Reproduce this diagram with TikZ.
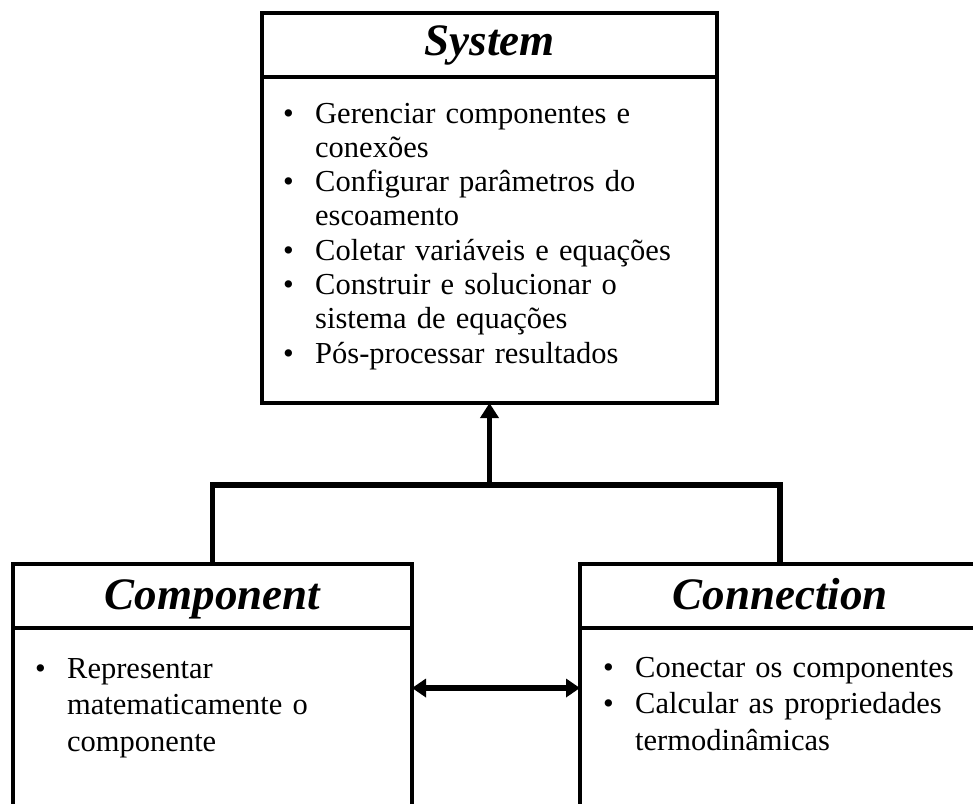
\documentclass[tikz,border=0pt]{standalone}
\usepackage{fontspec}
\setmainfont{Liberation Serif}
\usetikzlibrary{arrows.meta}

% bullet and hanging indent for the item lists
\newcommand{\bulletmark}{\makebox[32pt][l]{\textbullet}}
\newcommand{\hangsp}{\hspace*{32pt}}

\begin{document}
\begin{tikzpicture}[x=1pt,y=-1pt,
  boxframe/.style={draw=black,line width=4.5pt,inner sep=0pt,outer sep=0pt,anchor=north west},
  boxtitle/.style={font=\fontsize{45}{54}\selectfont\bfseries\itshape,inner sep=0pt,anchor=base},
  bodytext/.style={font=\fontsize{30.5}{34.3}\selectfont,inner sep=0pt,anchor=base west,text width=440pt,align=left},
  wire/.style={line width=5.5pt},
  headtip/.style={-{Triangle[length=15pt,width=18pt]}},
  bothtips/.style={{Triangle[length=14pt,width=18pt]}-{Triangle[length=14pt,width=18pt]}}
]
\useasboundingbox (0,0) rectangle (973,803);
\clip (0,0) rectangle (973,803);

% System class
\node[boxframe,minimum width=455pt,minimum height=64pt] (sysh) at (262,13) {};
\node[boxframe,minimum width=455pt,minimum height=326pt] (sysb) at (262,77) {};
\node[boxtitle] (systitle) at (489.5,55) {System};
\node[bodytext] (syslist) at (283,123) {\bulletmark Gerenciar componentes e\\
  \hangsp conexões\\
  \bulletmark Configurar parâmetros do\\
  \hangsp escoamento\\
  \bulletmark Coletar variáveis e equações\\
  \bulletmark Construir e solucionar o\\
  \hangsp sistema de equações\\
  \bulletmark Pós-processar resultados};

% Component class
\node[boxframe,minimum width=399pt,minimum height=64pt] (comph) at (13,564) {};
\node[boxframe,minimum width=399pt,minimum height=300pt] (compb) at (13,628) {};
\node[boxtitle] (comptitle) at (212.5,609) {Component};
\node[bodytext,font=\fontsize{30.5}{36.5}\selectfont] (complist) at (35,678) {\bulletmark Representar\\
  \hangsp matematicamente o\\
  \hangsp componente};

% Connection class
\node[boxframe,minimum width=400pt,minimum height=64pt] (connh) at (580,564) {};
\node[boxframe,minimum width=400pt,minimum height=300pt] (connb) at (580,628) {};
\node[boxtitle] (conntitle) at (780,609) {Connection};
\node[bodytext,font=\fontsize{30.5}{36.5}\selectfont] (connlist) at (603,677) {\bulletmark Conectar os componentes\\
  \bulletmark Calcular as propriedades\\
  \hangsp termodinâmicas};

% connectors
\coordinate (junction) at (489.5,485);
\draw[wire] (comph.north) |- (junction) -| (connh.north);
\draw[wire,headtip] (junction) -- (sysb.south);
\draw[wire,bothtips] ([yshift=-60pt]compb.north east) -- ([yshift=-60pt]connb.north west);
\end{tikzpicture}
\end{document}
